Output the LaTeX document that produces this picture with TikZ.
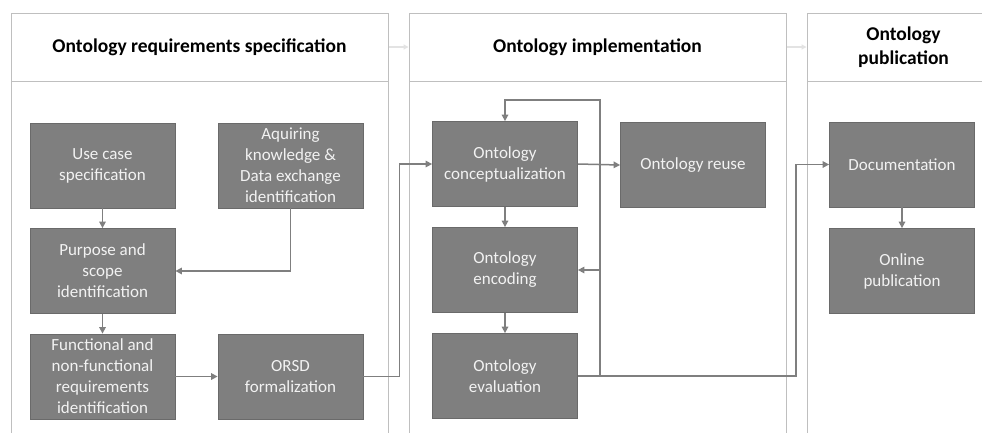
\documentclass[tikz,border=0pt]{standalone}
\usepackage{fontspec}
\setmainfont{Carlito}
\usetikzlibrary{arrows.meta,calc}
\definecolor{boxfill}{HTML}{7F7F7F}
\definecolor{boxline}{HTML}{6A6A6A}
\definecolor{boxtext}{HTML}{F2F2F2}
\definecolor{panelline}{HTML}{BFBFBF}
\definecolor{conn}{HTML}{7F7F7F}
\definecolor{hdrarrow}{HTML}{E3E3E3}
\tikzset{
  stepbox/.style={rectangle, fill=boxfill, draw=boxline, line width=0.8pt,
    minimum width=145pt, minimum height=85pt, inner sep=2pt,
    text=boxtext, align=center, font=\fontsize{17}{21}\selectfont},
  header/.style={rectangle, draw=panelline, line width=1pt, minimum height=68pt,
    inner sep=1pt, align=center, font=\bfseries\fontsize{19.5}{23.5}\selectfont, text=black},
  conline/.style={draw=conn, line width=1.5pt},
  conarrow/.style={conline, -{Triangle[length=6.5pt,width=6.5pt]}},
  hdrconn/.style={draw=hdrarrow, line width=1.2pt, -{Triangle[length=5pt,width=5pt]}},
}
\begin{document}
\begin{tikzpicture}[x=1pt,y=-1pt]
\useasboundingbox (0,0) rectangle (982,432);
\clip (0,0) rectangle (982,432);
\fill[white] (0,0) rectangle (982,432);
% panels
\draw[panelline, line width=1pt] (11,13) rectangle (388,445);
\draw[panelline, line width=1pt] (409,13) rectangle (786,445);
\draw[panelline, line width=1pt] (807,13) rectangle (1000,445);
\node[header] (h1) at (199.5,47) [minimum width=377pt] {Ontology requirements specification};
\node[header] (h2) at (597.5,47) [minimum width=377pt] {Ontology implementation};
\node[header] (h3) at (903.5,47) [minimum width=193pt] {Ontology\\publication};
\draw[hdrconn] (h1.east) -- (h2.west);
\draw[hdrconn] (h2.east) -- (h3.west);
% boxes
\node[stepbox] (uc) at (102.5,165.5) {Use case\\specification};
\node[stepbox] (aq) at (290.5,165.5) {Aquiring\\knowledge \&\\Data exchange\\identification};
\node[stepbox] (pu) at (102.5,271) {Purpose and\\scope\\identification};
\node[stepbox] (fn) at (102.5,376.5) {Functional and\\non-functional\\requirements\\identification};
\node[stepbox] (or) at (290.5,376.5) {ORSD\\formalization};
\node[stepbox] (cc) at (505,164) {Ontology\\conceptualization};
\node[stepbox] (re) at (693,165) {Ontology reuse};
\node[stepbox] (en) at (505,270) {Ontology\\encoding};
\node[stepbox] (ev) at (505,376) {Ontology\\evaluation};
\node[stepbox] (doc) at (902,164.5) {Documentation};
\node[stepbox] (on) at (902,271) {Online\\publication};
% connectors
\draw[conarrow] (uc.south) -- (pu.north);
\draw[conarrow] (aq.south) |- (pu.east);
\draw[conarrow] (pu.south) -- (fn.north);
\draw[conarrow] (fn.east) -- (or.west);
\draw[conarrow] (or.east) -- ++(36,0) |- (cc.west);
\draw[conarrow] (cc.east) -- (re.west);
\draw[conarrow] (cc.south) -- (en.north);
\draw[conarrow] (en.south) -- (ev.north);
\draw[conline] (ev.east) -- ++(22,0) coordinate (lp);
\draw[conarrow] (lp) -- ($(lp |- cc.north)+(0,-21)$) -| (cc.north);
\draw[conarrow] (lp |- en.east) -- (en.east);
\draw[conarrow] (lp) -- ++(196,0) |- (doc.west);
\draw[conarrow] (doc.south) -- (on.north);
\end{tikzpicture}
\end{document}
